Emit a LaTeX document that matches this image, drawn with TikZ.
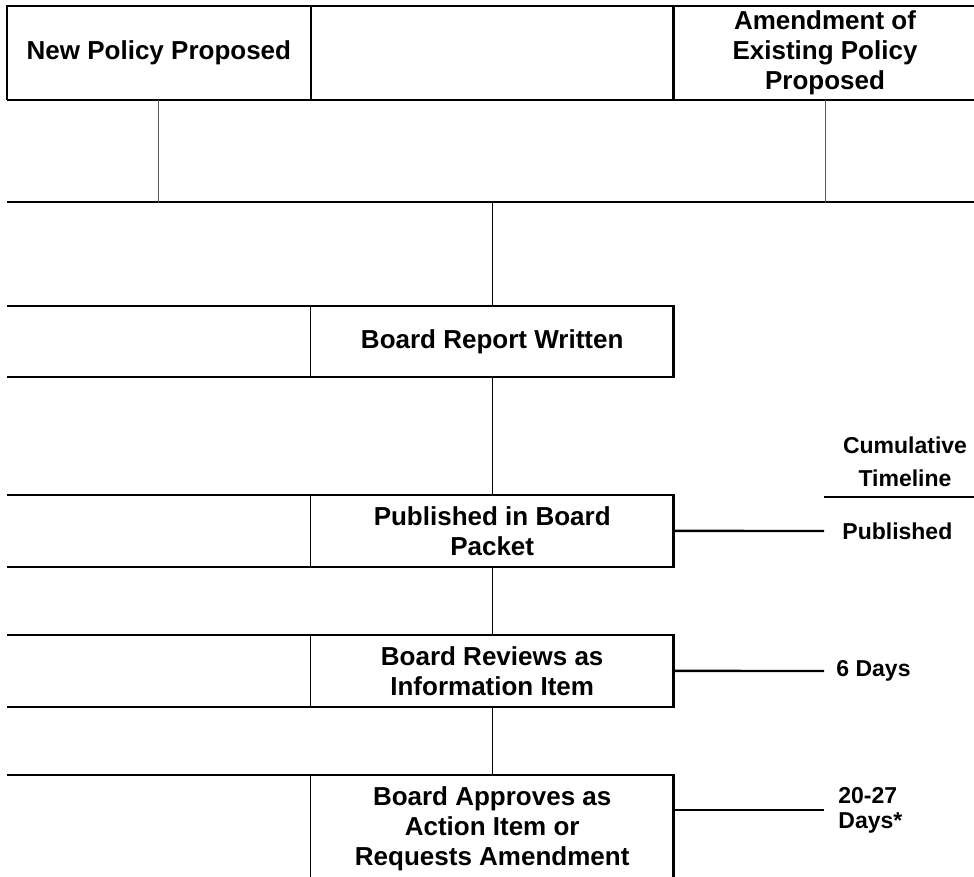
\documentclass[tikz,border=0pt]{standalone}
\usepackage{fontspec}
\setmainfont{Liberation Sans}
\usetikzlibrary{positioning}

\tikzset{
    cell/.style={
        rectangle, anchor=north west, inner sep=0pt, align=center,
        font=\fontsize{13}{15}\selectfont\bfseries,
    },
    daytag/.style={
        rectangle, anchor=west, inner xsep=6pt, inner ysep=0pt, align=left,
        font=\fontsize{11.5}{12.5}\selectfont\bfseries,
    },
    heavy/.style={draw=black, line width=1.2pt},
    light/.style={draw=black, line width=0.5pt},
    faint/.style={draw=black!65, line width=0.5pt},
}

\begin{document}
\begin{tikzpicture}[x=0.5pt, y=-0.5pt]
        \useasboundingbox (0,0) rectangle (974,877);

        % header row
        \node (newpol) at(7,6) [cell, minimum width=151.5pt, minimum height=46.5pt] {New Policy Proposed};
        \node (blank) at(newpol.north east) [cell, minimum width=181pt, minimum height=46.5pt] {};
        \node (amend) at(blank.north east) [cell, minimum width=151pt, minimum height=46.5pt] {Amendment of\\Existing Policy\\Proposed};

        \draw[heavy] (newpol.south west) -- (newpol.north west) -- (amend.north east);
        \draw[heavy] (newpol.south west) -- (amend.south east);
        \draw[heavy] (blank.north west) -- (blank.south west);
        \draw[heavy] (blank.north east) -- (blank.south east);

        % second band
        \coordinate (band) at(7,202);
        \draw[heavy] (band) -- (band -| amend.east);
        \draw[faint] (newpol.south) -- (newpol.south |- band);
        \draw[faint] (amend.south) -- (amend.south |- band);

        % process rows
        \node (repgap) at(7,306) [cell, minimum width=151.5pt, minimum height=35pt] {};
        \node (report) at(repgap.north east) [cell, minimum width=181pt, minimum height=35pt] {Board Report Written};

        \node (pubgap) at(7,495) [cell, minimum width=151.5pt, minimum height=35.5pt] {};
        \node (published) at(pubgap.north east) [cell, minimum width=181pt, minimum height=35.5pt] {Published in Board\\Packet};

        \node (revgap) at(7,635) [cell, minimum width=151.5pt, minimum height=35.5pt] {};
        \node (reviews) at(revgap.north east) [cell, minimum width=181pt, minimum height=35.5pt] {Board Reviews as\\Information Item};

        \node (aprgap) at(7,775) [cell, minimum width=151.5pt, minimum height=62.5pt] {};
        \node (approves) at(aprgap.north east) [cell, minimum width=181pt, minimum height=53pt] {Board Approves as\\Action Item or\\Requests Amendment};

        \draw[heavy] (repgap.north west) -- (report.north east) -- (report.south east) -- (repgap.south west);
        \draw[light] (report.north west) -- (report.south west);
        \draw[heavy] (pubgap.north west) -- (published.north east) -- (published.south east) -- (pubgap.south west);
        \draw[light] (published.north west) -- (published.south west);
        \draw[heavy] (revgap.north west) -- (reviews.north east) -- (reviews.south east) -- (revgap.south west);
        \draw[light] (reviews.north west) -- (reviews.south west);
        \draw[heavy] (aprgap.north west) -- (approves.north east) -- (approves.north east |- aprgap.south);
        \draw[light] (approves.north west) -- (approves.north west |- aprgap.south);

        % flow
        \draw[light] (band -| report.north) -- (report.north);
        \draw[light] (report.south) -- (published.north);
        \draw[light] (published.south) -- (reviews.north);
        \draw[light] (reviews.south) -- (approves.north);

        % cumulative timeline
        \node (cumul) at(905,462) [daytag, anchor=center, align=center] {Cumulative\\[4pt]Timeline};
        \coordinate (tlstart) at(824,497);
        \draw[heavy] (tlstart) -- (tlstart -| amend.east);

        \node (pubday) at(824,531) [daytag, inner xsep=9pt] {Published};
        \node (revday) at(824,671) [daytag] {6 Days};
        \node (aprday) at(824,810) [daytag, inner xsep=7pt] {20-27\\Days*};

        \draw[heavy] (published.east) -- (pubday.west);
        \draw[heavy] (reviews.east) -- (revday.west);
        \draw[heavy] (aprday.west -| approves.east) -- (aprday.west);
\end{tikzpicture}
\end{document}
